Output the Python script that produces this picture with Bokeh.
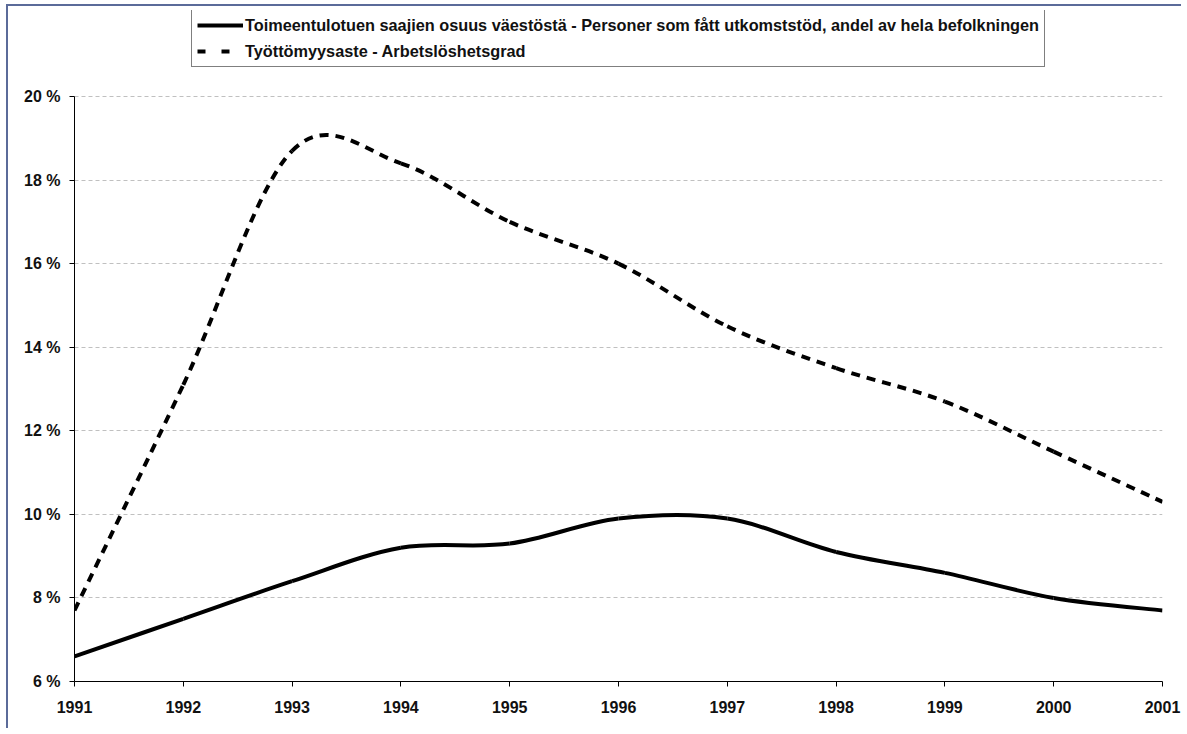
from bokeh.plotting import figure
from bokeh.models import Range1d, Legend, LegendItem, PrintfTickFormatter, FixedTicker, ColumnDataSource
from bokeh.embed import file_html
from bokeh.resources import INLINE

# ---- data ----
years = [1991, 1992, 1993, 1994, 1995, 1996, 1997, 1998, 1999, 2000, 2001]
social_assistance = [6.6, 7.5, 8.4, 9.2, 9.3, 9.9, 9.9, 9.1, 8.6, 8.0, 7.7]
unemployment = [7.7, 13.1, 18.7, 18.4, 17.0, 16.0, 14.5, 13.5, 12.7, 11.5, 10.3]
y_ticks = [6, 8, 10, 12, 14, 16, 18, 20]
label_assist = "Toimeentulotuen saajien osuus väestöstä - Personer som fått utkomststöd, andel av hela befolkningen"
label_unemp = "Työttömyysaste - Arbetslöshetsgrad"

FONT = "Liberation Sans"
NAN = float("nan")


def smooth_segments(xs, ys):
    """Bezier control points for a smoothed line through the data points."""
    n = len(xs)
    d = dict(x0=[], y0=[], x1=[], y1=[], cx0=[], cy0=[], cx1=[], cy1=[])
    for i in range(n - 1):
        pm = i - 1 if i > 0 else i
        pp = i + 2 if i + 2 < n else i + 1
        d["x0"].append(xs[i]); d["y0"].append(ys[i])
        d["x1"].append(xs[i + 1]); d["y1"].append(ys[i + 1])
        d["cx0"].append(xs[i] + (xs[i + 1] - xs[pm]) / 6)
        d["cy0"].append(ys[i] + (ys[i + 1] - ys[pm]) / 6)
        d["cx1"].append(xs[i + 1] - (xs[pp] - xs[i]) / 6)
        d["cy1"].append(ys[i + 1] - (ys[pp] - ys[i]) / 6)
    return ColumnDataSource(d)


# frame extends up to the legend box so the legend is not clipped;
# axis and grid stop at 20 %
Y_TOP = 6 + 671 * 14 / 585

p = figure(width=1175, height=724, output_backend="svg", toolbar_location=None,
           x_range=Range1d(1991, 2001), y_range=Range1d(6, Y_TOP),
           min_border_left=66, min_border_right=21, min_border_top=4, min_border_bottom=49)
p.margin = (4, 0, 0, 6)
p.styles = {"border-left": "2px solid #5b6b99", "border-top": "2px solid #5b6b99"}
p.outline_line_color = None
p.background_fill_color = "white"
p.border_fill_color = "white"

p.xgrid.grid_line_color = None
p.ygrid.grid_line_color = "#c0c0c0"
p.ygrid.grid_line_dash = "4 3"
p.ygrid.grid_line_width = 1

for ax in (p.xaxis[0], p.yaxis[0]):
    ax.axis_line_color = "black"
    ax.axis_line_width = 1
    ax.major_tick_line_color = "black"
    ax.major_tick_out = 5
    ax.major_tick_in = 0
    ax.minor_tick_line_color = None
    ax.major_label_text_font = FONT
    ax.major_label_text_font_style = "bold"
    ax.major_label_text_font_size = "16px"
    ax.major_label_text_color = "#111111"

p.xaxis.ticker = FixedTicker(ticks=years)
p.xaxis.major_label_standoff = 14
p.yaxis.ticker = FixedTicker(ticks=y_ticks)
p.yaxis.formatter = PrintfTickFormatter(format="%d %%")
p.yaxis.major_label_standoff = 9
p.yaxis.bounds = (6, 20)

p.bezier(x0="x0", y0="y0", x1="x1", y1="y1", cx0="cx0", cy0="cy0", cx1="cx1", cy1="cy1",
         source=smooth_segments(years, unemployment), line_color="black", line_width=4,
         line_dash="9 7")
p.bezier(x0="x0", y0="y0", x1="x1", y1="y1", cx0="cx0", cy0="cy0", cx1="cx1", cy1="cy1",
         source=smooth_segments(years, social_assistance), line_color="black", line_width=4)

# legend proxies (draw nothing in the plot)
r1 = p.line(x=[NAN, NAN], y=[NAN, NAN], line_color="black", line_width=4)
r2 = p.line(x=[NAN, NAN], y=[NAN, NAN], line_color="black", line_width=4, line_dash="8 16")

legend = Legend(items=[LegendItem(label=label_assist, renderers=[r1]),
                       LegendItem(label=label_unemp, renderers=[r2])],
                location=(117, 614), orientation="vertical")
legend.border_line_color = "black"
legend.border_line_width = 1
legend.background_fill_color = "white"
legend.background_fill_alpha = 1
legend.label_text_font = FONT
legend.label_text_font_style = "bold"
legend.label_text_font_size = "16.3px"
legend.label_text_color = "#111111"
legend.glyph_width = 46
legend.glyph_height = 20
legend.label_height = 20
legend.label_standoff = 2
legend.padding = 5
legend.spacing = 6
legend.margin = 0
p.add_layout(legend, "center")

open("out.html", "w").write(file_html(p, INLINE))
